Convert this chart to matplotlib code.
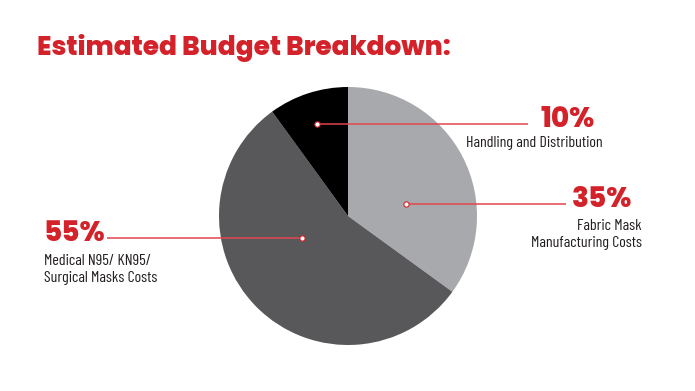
import matplotlib
matplotlib.use("Agg")
import matplotlib.pyplot as plt

# budget shares, clockwise from 12 o'clock
labels = [["Fabric Mask", "Manufacturing Costs"],
          ["Medical N95/ KN95/", "Surgical Masks Costs"],
          ["Handling and Distribution"]]
shares = [35, 55, 10]
colors = ["#a7a9ac", "#58585a", "#000000"]

RED = "#d3222a"
W, H = 695, 391

heavy = ["Poppins", "DejaVu Sans"]
narrow = ["Barlow Condensed", "DejaVu Sans"]

fig = plt.figure(figsize=(W / 100, H / 100), dpi=100)
ax = fig.add_axes([0, 0, 1, 1])

cx, cy, r = 348, H - 216, 129
ax.pie(shares, colors=colors, startangle=90, counterclock=False,
       center=(cx, cy), radius=r, frame=True,
       wedgeprops=dict(linewidth=0))
ax.set_xlim(0, W)
ax.set_ylim(0, H)
ax.set_aspect("equal")
ax.axis("off")

ax.text(37, H - 55, "Estimated Budget Breakdown:", color=RED,
        fontsize=19, fontweight=800, family=heavy,
        va="baseline", ha="left")

# callout layout (pixel coords from the top-left)
callouts = [
    # 35%
    dict(dot=(406, 204), end=566, tx=642, ha="right", pct_x=632, base=230),
    # 55%
    dict(dot=(302, 238), end=107, tx=44, ha="left", pct_x=44, base=265),
    # 10%
    dict(dot=(317, 124), end=528, tx=603, ha="right", pct_x=595, base=147),
]

for share, label, c in zip(shares, labels, callouts):
    dx, dy = c["dot"]
    ax.plot([dx, c["end"]], [H - dy, H - dy], color="#e0464d", lw=1.1,
            solid_capstyle="butt", zorder=3)
    ax.plot(dx, H - dy, "o", ms=3.8, mfc="white", mec=RED, mew=0.8, zorder=4)
    ax.text(c["pct_x"], H - dy - 3, f"{share}%", color=RED, fontsize=20,
            fontweight=800, family=heavy, ha=c["ha"], va="baseline")
    for i, line in enumerate(label):
        ax.text(c["tx"], H - c["base"] - i * 17, line, color="#231f20",
                fontsize=11.5, family=narrow, ha=c["ha"], va="baseline")

fig.savefig("out.png", dpi=100, facecolor="white")
